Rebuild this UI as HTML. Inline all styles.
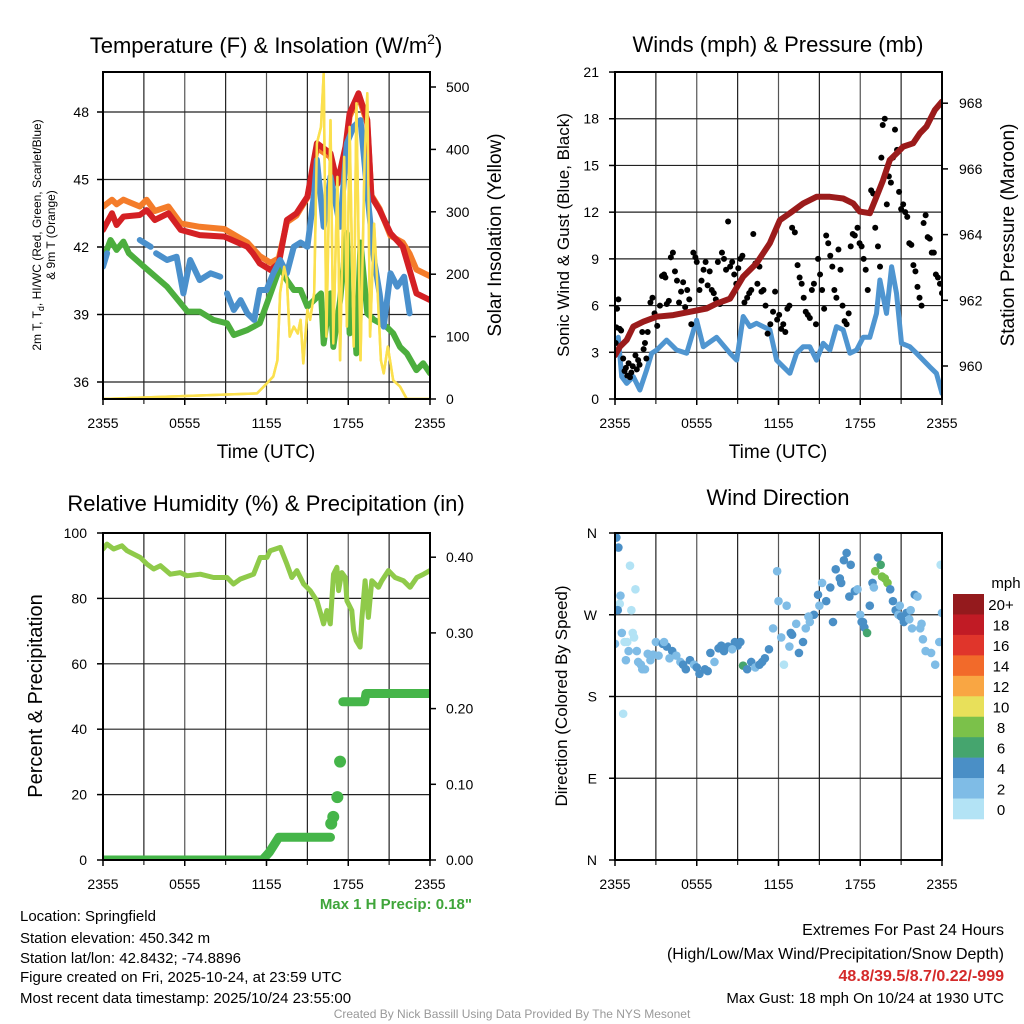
<!DOCTYPE html>
<html><head><meta charset="utf-8"><style>
html,body{margin:0;padding:0;background:#fff;width:1024px;height:1024px;overflow:hidden}
svg{display:block;font-family:"Liberation Sans",Arial,sans-serif}
</style></head><body>
<svg id="c" width="1024" height="1024" viewBox="0 0 1024 1024" xmlns="http://www.w3.org/2000/svg">
<text x="266" y="53" font-size="22" text-anchor="middle">Temperature (F) &amp; Insolation (W/m<tspan font-size="14" dy="-9">2</tspan><tspan dy="9">)</tspan></text>
<text x="778" y="52" font-size="22" text-anchor="middle">Winds (mph) &amp; Pressure (mb)</text>
<text x="266" y="511" font-size="22" text-anchor="middle">Relative Humidity (%) &amp; Precipitation (in)</text>
<text x="778" y="505" font-size="22" text-anchor="middle">Wind Direction</text>
<text x="266" y="458" font-size="19" text-anchor="middle">Time (UTC)</text>
<text x="778" y="458" font-size="19" text-anchor="middle">Time (UTC)</text>
<text transform="translate(41,235) rotate(-90)" font-size="12" text-anchor="middle">2m T, T<tspan font-size="9" dy="3">d</tspan><tspan dy="-3">, HI/WC (Red, Green, Scarlet/Blue)</tspan></text>
<text transform="translate(55,235) rotate(-90)" font-size="12" text-anchor="middle">&amp; 9m T (Orange)</text>
<text transform="translate(501,235) rotate(-90)" font-size="19" text-anchor="middle">Solar Insolation (Yellow)</text>
<text transform="translate(569,235) rotate(-90)" font-size="17" text-anchor="middle">Sonic Wind &amp; Gust (Blue, Black)</text>
<text transform="translate(1014,235) rotate(-90)" font-size="19" text-anchor="middle">Station Pressure (Maroon)</text>
<text transform="translate(42,696) rotate(-90)" font-size="20" text-anchor="middle">Percent &amp; Precipitation</text>
<text transform="translate(567,696) rotate(-90)" font-size="17" text-anchor="middle">Direction (Colored By Speed)</text>
<text x="472" y="909" font-size="15" font-weight="bold" fill="#3fa53a" text-anchor="end">Max 1 H Precip: 0.18"</text>
<g font-size="15">
<text x="20" y="921">Location: Springfield</text>
<text x="20" y="943">Station elevation: 450.342 m</text>
<text x="20" y="963">Station lat/lon: 42.8432; -74.8896</text>
<text x="20" y="982">Figure created on Fri, 2025-10-24, at 23:59 UTC</text>
<text x="20" y="1003">Most recent data timestamp: 2025/10/24 23:55:00</text>
</g>
<g font-size="16" text-anchor="end">
<text x="1004" y="935">Extremes For Past 24 Hours</text>
<text x="1004" y="959">(High/Low/Max Wind/Precipitation/Snow Depth)</text>
<text x="1004" y="981" font-weight="bold" fill="#d42a2a">48.8/39.5/8.7/0.22/-999</text>
<text x="1004" y="1003" font-size="15">Max Gust: 18 mph On 10/24 at 1930 UTC</text>
</g>
<text x="512" y="1018" font-size="12" fill="#999" text-anchor="middle">Created By Nick Bassill Using Data Provided By The NYS Mesonet</text>
</svg>
<script>
// ---------- data ----------
const timeLabels = ["2355","0555","1155","1755","2355"];
const tempTicks = [36,39,42,45,48];
const solarTicks = [0,100,200,300,400,500];
const windTicks = [0,3,6,9,12,15,18,21];
const pressTicks = [960,962,964,966,968];
const rhTicks = [0,20,40,60,80,100];
const precipTicks = [0,0.1,0.2,0.3,0.4];
const dirTicks = [0,90,180,270,360];
const dirLabels = ["N","E","S","W","N"];
const speedBins = [0,2,4,6,8,10,12,14,16,18,20];
const speedBinLabels = ["0","2","4","6","8","10","12","14","16","18","20+"];

const orangeHours = [0,0.66,1,1.5,2.7,3.2,3.8,4.8,5.7,7.1,8.9,10.6,11.5,12.3,12.9,13.5,14.2,15,15.7,16.7,17.2,17.8,18.1,18.75,19.4,19.7,20.3,21.1,22,22.5,23,24];
const orangeTemps = [43.79,44.1,43.9,44.1,43.8,44.1,43.6,43.8,43.05,42.9,42.8,42.2,41.6,41.3,41.5,43.1,43.4,44.2,46.4,46.0,44.8,46.3,47.8,48.7,47.5,44.3,43.7,42.5,42.2,41.7,41.0,40.7];
const redHours = [0,0.66,1,1.5,2.7,3.2,3.8,4.8,5.7,7.1,8.9,10.6,11,11.5,12.3,12.9,13.5,14.2,15,15.7,16.7,17.2,17.8,18.1,18.75,19.4,19.7,20.3,21.1,22,22.5,23,24];
const redTemps = [42.76,43.5,42.98,43.35,43.42,43.64,43.2,43.5,42.76,42.53,42.46,42.01,41.72,41.27,40.98,41.27,43.2,43.5,44.24,46.61,46.16,44.83,46.46,47.94,48.83,47.64,44.24,43.64,42.61,42.01,40.98,39.94,39.64];
const greenHours = [0,0.55,1,1.5,1.9,3,4.7,6.2,7.1,8.1,9.1,9.6,10.6,11.5,12.3,13,13.5,14,14.5,15,15.5,16,16.2,16.7,16.9,17.4,17.9,18.1,18.4,18.6,18.9,19.4,19.9,20.8,21.3,21.8,22.3,23,23.5,24];
const greenTemps = [41.42,42.31,41.87,42.24,41.72,41.13,40.24,39.13,39.13,38.76,38.61,38.09,38.31,38.61,39.94,41.13,40.53,40.09,40.09,39.35,39.64,39.94,37.71,39.94,37.56,39.64,42.61,38.16,39.2,37.27,42.2,39.05,38.76,38.46,38.16,37.56,37.27,36.53,36.83,36.39];
const blueHours = [0,0.3,null,2.7,3.5,null,3.9,4.7,5.4,5.9,6.4,7.1,7.9,8.6,null,9.1,9.6,10.1,10.6,11.1,11.5,12,12.5,13,13.5,14,14.5,15,15.5,15.7,16.2,16.7,17.4,17.9,18.4,18.9,19.4,19.9,20.3,20.6,21.1,21.6,22.1,22.5];
const blueTemps = [41.13,41.72,null,42.31,42.01,null,41.72,41.42,41.57,39.94,41.42,40.53,40.83,40.68,null,39.94,39.2,39.64,39.05,38.76,40.09,40.09,40.83,41.42,40.83,42.01,42.2,42.01,44.39,45.87,42.9,45.13,42.9,46.61,47.35,47.64,44.39,41.42,39.94,38.46,40.83,40.24,40.68,39.05];
const solarHours = [0,11.3,11.8,12.5,12.8,13,13.3,13.5,13.7,14,14.3,14.5,14.7,15,15.2,15.5,15.7,16,16.2,16.4,16.7,16.9,17.2,17.4,17.7,17.9,18.1,18.4,18.6,18.9,19.2,19.4,19.6,19.9,20.1,20.4,20.6,20.9,21.3,21.8,22.3,24];
const solarVals = [0,9,20,36,62,170,212,191,100,116,105,127,57,143,127,170,410,436,522,100,447,89,356,62,388,116,436,84,474,62,383,490,100,281,196,62,41,84,30,20,0,0];

const pressHours = [0,0.37,0.86,1.34,2.08,3.06,4.28,5.5,6.72,7.46,8.44,9.41,10.39,11.37,12.1,12.84,13.81,14.79,15.77,16.75,17.48,17.97,18.7,19.19,19.68,20.17,20.66,21.15,21.88,22.37,22.86,23.47,24];
const pressVals = [960.33,960.59,960.79,961.2,961.35,961.5,961.55,961.65,961.75,961.9,962.05,962.72,963.13,963.74,964.44,964.65,964.95,965.15,965.15,965.1,964.95,964.7,964.65,965.15,965.66,966.27,966.47,966.68,966.78,967.08,967.29,967.79,968.05];
const sonicHours = [0,0.24,0.49,0.86,1.34,1.83,2.32,2.69,3.06,3.79,4.52,5.26,5.99,6.48,7.46,8.44,8.93,9.41,9.9,10.39,10.88,11.37,11.86,12.35,12.84,13.33,13.81,14.3,14.79,15.28,15.77,16.26,16.75,17.24,17.73,18.22,18.7,19.19,19.44,19.93,20.3,20.66,21.03,21.64,22.13,22.62,23.1,23.59,24];
const sonicVals = [3.58,3.96,1.44,1.0,1.44,0.58,1.86,2.94,3.15,3.78,3.15,2.94,5.06,3.36,3.96,2.94,2.5,5.3,4.65,4.86,4.65,4.44,2.5,2.07,1.65,2.94,3.36,3.36,2.5,3.58,3.15,4.65,4.44,2.94,3.15,3.96,3.96,5.5,7.64,5.5,8.5,6.79,3.58,3.36,2.94,2.5,2.07,1.65,0.36];
const gustHours = [0.05,0.1,0.15,0.25,0.35,0.45,0.6,0.7,0.8,0.9,1.0,1.1,1.2,1.3,1.5,1.6,1.7,1.8,2.0,2.1,2.2,2.3,2.4,2.6,2.75,2.9,3.1,3.3,3.45,3.6,3.7,3.8,3.95,4.1,4.25,4.4,4.55,4.7,4.85,5.0,5.15,5.3,5.45,5.6,5.75,5.9,6.0,6.2,6.35,6.5,6.65,6.8,6.95,7.1,7.25,7.4,7.55,7.7,7.85,8.0,8.15,8.3,8.45,8.6,8.75,8.9,9.05,9.2,9.35,9.5,9.7,9.85,10.0,10.15,10.3,10.45,10.6,10.75,10.9,11.05,11.2,11.4,11.6,11.75,11.9,12.05,12.2,12.35,12.5,12.65,12.8,13.0,13.2,13.4,13.55,13.7,13.85,14.0,14.15,14.3,14.45,14.6,14.75,14.9,15.05,15.2,15.35,15.5,15.65,15.8,15.95,16.1,16.25,16.4,16.55,16.7,16.85,17.0,17.15,17.3,17.45,17.6,17.8,17.95,18.1,18.25,18.4,18.55,18.8,18.95,19.1,19.3,19.45,19.55,19.65,19.8,19.95,20.1,20.25,20.4,20.55,20.7,20.85,21.0,21.15,21.3,21.45,21.6,21.75,21.9,22.05,22.2,22.35,22.5,22.65,22.8,22.95,23.1,23.25,23.4,23.55,23.7,23.85,24];
const gustVals = [3.6,4.6,5.8,6.4,4.5,4.4,2.6,1.8,2.0,1.5,2.3,1.4,1.7,2.1,2.8,1.9,2.5,2.2,4.3,3.2,3.6,2.6,4.3,6.2,6.5,5.5,4.7,6.0,7.9,8.0,7.8,6.1,6.3,9.1,9.4,8.2,7.6,6.2,6.9,7.5,5.9,7.0,6.4,4.8,9.4,9.1,8.8,7.0,7.6,8.3,8.8,7.3,8.2,7.0,6.8,6.4,8.8,6.1,9.4,9.0,8.3,11.4,8.5,8.8,8.0,7.4,8.4,9.0,9.2,6.2,6.5,6.8,7.0,10.6,8.7,7.4,8.5,6.9,7.0,6.0,4.2,4.8,5.6,6.9,5.1,5.4,4.5,4.8,4.3,5.8,6.0,11.0,10.7,8.6,7.8,7.4,6.5,5.6,5.4,5.2,7.0,7.4,4.8,9.0,8.0,7.0,5.8,10.5,10.0,9.2,8.5,7.0,6.5,9.6,8.3,6.0,5.0,4.8,5.5,9.8,10.6,10.5,11.0,10.0,9.8,9.0,8.3,7.0,13.4,13.2,11.0,9.8,8.5,15.5,17.6,18.0,12.5,14.3,13.9,15.5,17.3,16.0,13.3,12.2,12.5,12.0,11.7,10.0,9.9,8.6,8.2,7.2,6.5,6.0,11.3,11.8,10.4,10.3,9.4,9.4,8.0,7.8,7.4,6.8,5.8,5.2,4.5,4.2,5.0,8.1,6.1,5.6,5.5,4.2];

const rhHours = [0,0.29,0.78,1.39,1.76,2.74,3.23,3.72,4.21,4.94,5.67,6.16,7.14,8.12,9.1,9.58,10.07,11.05,11.54,12.03,12.27,13.01,13.5,13.86,14.23,14.72,15.21,15.7,16.06,16.19,16.43,16.68,16.92,17.17,17.29,17.53,17.78,17.9,18.26,18.39,18.58,18.87,18.99,19.24,19.48,19.73,20.22,20.46,20.95,21.44,22.05,22.54,23.03,23.52,24];
const rhVals = [95.1,96.6,95.1,96.1,94.6,92.5,90.5,89.0,90.0,87.4,87.9,86.9,87.4,86.4,86.4,84.4,85.9,87.4,92.5,92.5,94.6,95.6,90.5,86.4,88.5,84.4,82.4,79.3,74.2,72.2,76.3,72.2,87.4,89.5,82.4,87.9,86.4,79.3,76.3,70.2,67.1,65.1,73.2,85.4,74.2,85.4,83.4,85.4,88.5,86.4,85.4,83.4,86.4,87.4,88.5];
const precipHours = [0,11.7,12.2,12.9,16.7,16.75,16.9,17.2,17.4,17.6,19.2,19.3,24];
const precipVals = [0,0,0.01,0.03,0.03,0.048,0.057,0.083,0.13,0.209,0.209,0.22,0.22];

const dirHours = [0,0.1,0.25,0.4,0.35,0.2,0.5,0.6,0.7,0.8,0.9,1.1,1.2,1.3,1.4,1.5,1.6,1.7,1.9,2.0,2.2,2.4,2.6,3.0,3.2,3.5,3.8,4.2,4.5,4.8,5.2,5.5,5.8,6.2,6.6,7.0,7.3,7.6,8.0,8.3,8.8,9.0,9.4,9.7,10.0,10.3,10.6,11.0,11.3,11.6,11.9,12.0,12.2,12.4,12.6,12.8,13.0,13.3,13.5,13.8,14.0,14.3,14.6,14.9,15.2,15.5,15.8,16.0,16.2,16.5,16.8,17.0,17.3,17.6,17.8,18.0,18.1,18.3,18.5,18.7,18.9,19.1,19.3,19.5,19.6,19.8,20.0,20.2,20.4,20.6,20.8,21.0,21.2,21.4,21.6,21.8,22.0,22.2,22.4,22.6,22.8,23.2,23.5,23.8,24,23.9,1.0,2.8,3.6,4.0,5.0,6.0,6.8,7.8,8.6,9.2,10.8,12.9,14.2,15.0,16.6,17.2,18.2,19.0,20.9,21.7,22.5];
const dirVals = [238,355,344,291,282,275,250,161,240,220,240,324,275,250,245,298,230,218,215,210,210,227,220,240,225,238,235,230,225,218,210,220,215,205,210,228,218,233,230,235,240,236,214,210,218,212,215,222,232,255,318,285,245,215,280,235,248,260,228,240,255,262,270,292,305,285,300,262,320,310,330,338,325,296,298,270,262,256,250,280,305,318,333,325,312,310,305,298,285,275,270,268,262,272,265,255,292,290,255,243,230,228,215,240,272,325,230,226,240,222,215,212,208,236,232,240,218,250,268,280,305,290,262,300,280,275,260];
const dirSpeeds = [3,4,4,3,1,4,3,1,1,2,1,0,1,1,1,1,2,2,3,3,3,3,3,3,3,4,4,4,3,3,4,4,3,4,4,4,3,4,4,4,4,4,6,4,4,3,4,4,4,3,3,3,2,1,3,3,4,3,4,4,3,3,4,4,3,4,4,4,4,4,4,4,4,4,3,3,4,4,6,4,4,8,4,6,8,8,8,4,4,4,3,4,4,4,3,3,4,3,3,2,3,3,3,3,2,1,2,2,2,3,4,4,4,4,3,4,4,4,3,3,4,4,4,3,3,3,2];

// ---------- drawing ----------
const svg = document.getElementById('c');
const NS = 'http://www.w3.org/2000/svg';
function mk(tag, attrs, parent){ const e=document.createElementNS(NS,tag); for(const k in attrs) e.setAttribute(k,attrs[k]); (parent||svg).appendChild(e); return e; }
function txt(x,y,s,size,anchor,parent){ const t=mk('text',{x:x,y:y,'font-size':size,'text-anchor':anchor},parent); t.textContent=s; return t; }

const P = {
  temp:{x0:103,x1:430,y0:72,y1:399},
  wind:{x0:615,x1:942,y0:72,y1:399},
  rh:{x0:103,x1:430,y0:533,y1:860},
  dir:{x0:615,x1:942,y0:533,y1:860}
};
const xT = (p,h)=>p.x0 + h/24*(p.x1-p.x0);
const yTemp = t=>112+(48-t)*22.5;
const ySolar = s=>399-s*0.624;
const yWind = m=>399-m*15.57;
const yPress = p=>366-(p-960)*32.85;
const yRh = r=>860-r*3.27;
const yPrecip = p=>860-p*757;
const yDir = d=>860-d/360*327;
const speedColors = ['#b3e3f5','#7fbce6','#4a8fc6','#45a56e','#7bc14a','#e8e05a','#f9a643','#f26a2a','#e0352b','#c11b25','#941a1d'];
function speedColor(s){ let i=Math.min(10,Math.floor(s/2)); return speedColors[i]; }

function grid(p, name, hVals, yf){
  const g=mk('g',{});
  
  
  for(let h=3;h<24;h+=3){ mk('line',{x1:xT(p,h),x2:xT(p,h),y1:p.y0,y2:p.y1+5,stroke:(h%6?'#222':'#555'),'stroke-width':1.2},g); }
  hVals.forEach(v=>{ const y=yf(v); mk('line',{x1:p.x0,x2:p.x1,y1:y,y2:y,stroke:'#222','stroke-width':1.2},g); });
}
function frame(p,name){
  const r=mk('rect',{x:p.x0,y:p.y0,width:p.x1-p.x0,height:p.y1-p.y0,fill:'none',stroke:'#000','stroke-width':2});
  
  
}
function xLabels(p,name){
  const g=mk('g',{});
  
  
  timeLabels.forEach((s,i)=>{ const x=xT(p,i*6); mk('line',{x1:x,x2:x,y1:p.y1,y2:p.y1+6,stroke:'#000','stroke-width':1.5},g); txt(x,p.y1+29,s,14,'middle',g); });
}
function yLabels(vals,labels,yf,x,anchor,name,tickX,dir){
  const g=mk('g',{});
  
  
  vals.forEach((v,i)=>{ const y=yf(v); mk('line',{x1:tickX,x2:tickX+dir*6,y1:y,y2:y,stroke:'#000','stroke-width':1.5},g); txt(x,y+5,labels[i],14,anchor,g); });
}
function line(hs,vs,p,yf,color,w,name,clip){
  let d='',pen=false;
  for(let i=0;i<hs.length;i++){ if(hs[i]===null){pen=false;continue;} d+=(pen?'L':'M')+xT(p,hs[i]).toFixed(1)+' '+yf(vs[i]).toFixed(1)+' '; pen=true; }
  const e=mk('path',{d:d,fill:'none',stroke:color,'stroke-width':w,'stroke-linejoin':'round','stroke-linecap':'round','clip-path':clip});
  
  
  return e;
}
const defs=mk('defs',{});
Object.keys(P).forEach(k=>{ const p=P[k]; const c=mk('clipPath',{id:'clip-'+k},defs); mk('rect',{x:p.x0,y:p.y0,width:p.x1-p.x0,height:p.y1-p.y0},c); });

// Panel 1
let p=P.temp;
grid(p,'temp',tempTicks,yTemp);
line(solarHours,solarVals,p,ySolar,'#fbe04e',2.5,'solar-line','url(#clip-temp)');
line(orangeHours,orangeTemps,p,yTemp,'#f47c2a',6,'temp-9m-line','url(#clip-temp)');
line(greenHours,greenTemps,p,yTemp,'#4cae3e',6,'dewpoint-line','url(#clip-temp)');
line(redHours,redTemps,p,yTemp,'#d42024',6,'temp-2m-line','url(#clip-temp)');
line(blueHours,blueTemps,p,yTemp,'#4a90cc',6,'windchill-line','url(#clip-temp)');
line(solarHours,solarVals,p,ySolar,'#fbe04e',2.5,'solar-line-top','url(#clip-temp)');
frame(p,'temp');
xLabels(p,'temp');
yLabels(tempTicks,tempTicks.map(String),yTemp,89,'end','temp-y-ticks',p.x0,-1);
yLabels(solarTicks,solarTicks.map(String),ySolar,446,'start','solar-y-ticks',p.x1,1);

// Panel 2
p=P.wind;
grid(p,'wind',windTicks,yWind);
line(sonicHours,sonicVals,p,yWind,'#4f95d0',5,'sonic-wind-line','url(#clip-wind)');
const gg=mk('g',{'clip-path':'url(#clip-wind)'});


gustHours.forEach((h,i)=>{ const c=mk('circle',{cx:xT(p,h),cy:yWind(gustVals[i]),r:3,fill:'#000'},gg);
  
   });
line(pressHours,pressVals,p,yPress,'#9b1b1b',6,'pressure-line','url(#clip-wind)');
frame(p,'wind');
xLabels(p,'wind');
yLabels(windTicks,windTicks.map(String),yWind,599,'end','wind-y-ticks',p.x0,-1);
yLabels(pressTicks,pressTicks.map(String),yPress,959,'start','pressure-y-ticks',p.x1,1);

// Panel 3
p=P.rh;
grid(p,'rh',rhTicks,yRh);
line(rhHours,rhVals,p,yRh,'#8fca4a',5,'rh-line','url(#clip-rh)');
line(precipHours.slice(0,5),precipVals.slice(0,5),p,yPrecip,'#45b549',9,'precip-line-low','url(#clip-rh)');
line(precipHours.slice(9),precipVals.slice(9),p,yPrecip,'#45b549',9,'precip-line-high','url(#clip-rh)');
precipHours.slice(5,9).forEach((h,i)=>{ const c=mk('circle',{cx:xT(p,h),cy:yPrecip(precipVals[i+5]),r:6,fill:'#45b549'});
  
   });
frame(p,'rh');
xLabels(p,'rh');
yLabels(rhTicks,rhTicks.map(String),yRh,87,'end','rh-y-ticks',p.x0,-1);
yLabels(precipTicks,precipTicks.map(v=>v.toFixed(2)),yPrecip,446,'start','precip-y-ticks',p.x1,1);

// Panel 4
p=P.dir;
grid(p,'dir',dirTicks,yDir);
const dg=mk('g',{'clip-path':'url(#clip-dir)'});


dirHours.forEach((h,i)=>{ const c=mk('circle',{cx:xT(p,h),cy:yDir(dirVals[i]),r:4.3,fill:speedColor(dirSpeeds[i])},dg);
  
   });
frame(p,'dir');
xLabels(p,'dir');
yLabels(dirTicks,dirLabels,yDir,597,'end','direction-y-ticks',p.x0,-1);

// Colorbar
const cb=mk('g',{});


const cbTop=594, cbH=225/11;
speedBins.slice().reverse().forEach((v,i)=>{
  const idx=speedBins.length-1-i;
  mk('rect',{x:953,y:cbTop+i*cbH,width:31,height:cbH+0.3,fill:speedColors[idx]},cb);
  txt(1001,cbTop+i*cbH+cbH/2+6,speedBinLabels[idx],15,'middle',cb);
});
txt(1006,588,'mph',15,'middle',cb);
</script>
</body></html>
